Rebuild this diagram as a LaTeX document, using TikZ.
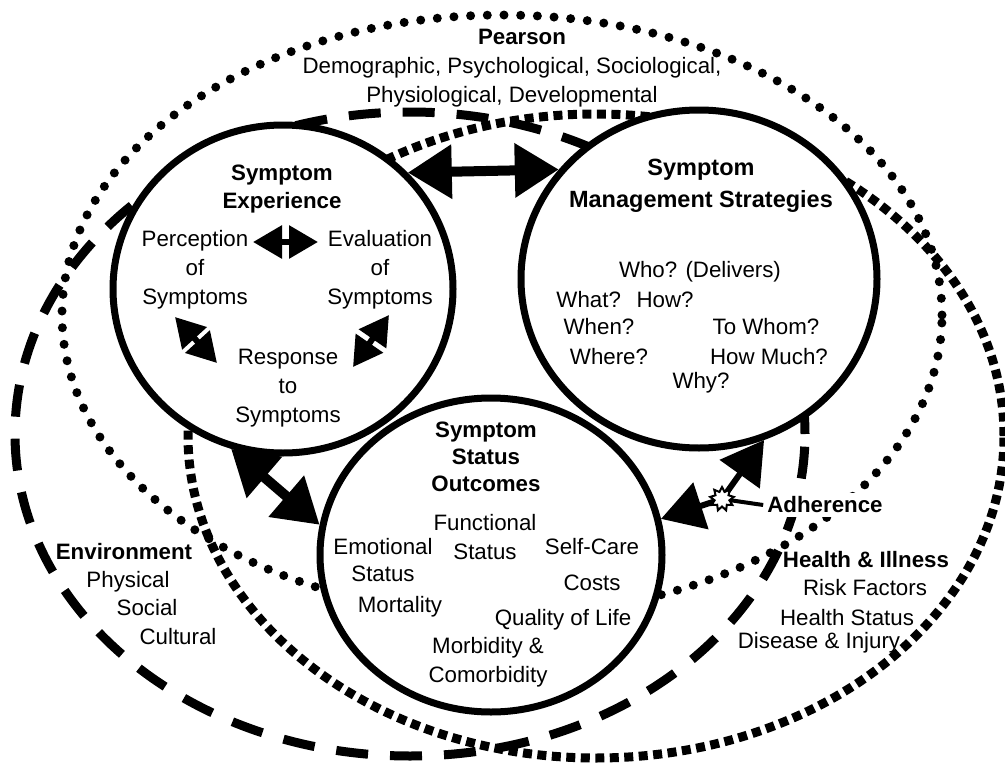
\documentclass[tikz,border=0pt]{standalone}
\usepackage{fontspec}
\setmainfont{Liberation Sans}
\usetikzlibrary{arrows.meta,shapes.geometric}
\begin{document}
\begin{tikzpicture}[x=1pt,y=-1pt,
  lbl/.style={font=\fontsize{22.3pt}{29pt}\selectfont, inner sep=0pt, align=center},
  head/.style={font=\fontsize{22.3pt}{28pt}\selectfont\bfseries, inner sep=0pt, align=center},
  zone/.style={draw, line width=7pt, fill=white, ellipse, inner sep=0pt},
  personline/.style={line width=9pt, line cap=round, dash pattern=on 0pt off 16.7pt},
  envline/.style={line width=9pt, dash pattern=on 32pt off 22pt},
  healthline/.style={line width=9pt, dash pattern=on 9pt off 5.5pt},
  bigdbl/.style={line width=10pt, {Triangle[length=44pt,width=52pt]}-{Triangle[length=44pt,width=52pt]}},
  bigone/.style={line width=6pt, -{Triangle[length=42pt,width=48pt]}},
  smalldbl/.style={line width=6pt, {Triangle[length=29pt,width=32pt]}-{Triangle[length=29pt,width=32pt]}},
]
\useasboundingbox (0,0) rectangle (1005,763);
\fill[white] (0,0) rectangle (1005,763);

% surrounding domains: person, environment, health and illness
\draw[personline] (502,315) ellipse [x radius=440pt, y radius=300pt];
\draw[envline] (410,434) ellipse [x radius=395pt, y radius=322pt];
\draw[healthline] (596,436) ellipse [x radius=408pt, y radius=322pt];

% the three core dimensions
\node[zone, minimum width=340pt, minimum height=328pt] (se) at (283,289) {};
\node[zone, minimum width=356pt, minimum height=338pt] (sm) at (699,279) {};
\node[zone, minimum width=342pt, minimum height=314pt] (sso) at (491,555) {};

% links between the dimensions
\draw[bigdbl] (se.43.3) -- (sm.142.7);
\draw[bigdbl] (se.252.7) -- (sso.170.6);

% person domain
\node[head] (pearson) at (522,37) {Pearson};
\node[lbl] (pearsonlist) at (512,82.5) {Demographic, Psychological, Sociological,\\Physiological, Developmental};

% symptom experience
\node[head] (setitle) at (282,189) {Symptom\\Experience};
\node[lbl] (perc) at (195,270) {Perception\\of\\Symptoms};
\node[lbl] (eval) at (380,270) {Evaluation\\of\\Symptoms};
\node[lbl] (resp) at (288,388) {Response\\to\\Symptoms};
\coordinate (pe1) at (253,242);
\coordinate (pe2) at (318,242);
\coordinate (pr1) at (175,317);
\coordinate (pr2) at (217,363);
\coordinate (er1) at (389,315);
\coordinate (er2) at (353,367);
\draw[smalldbl] (pe1) -- (pe2);
\draw[smalldbl] (pr1) -- (pr2);
\draw[smalldbl] (er1) -- (er2);

% symptom management strategies
\node[head, font=\fontsize{23.5pt}{28pt}\selectfont\bfseries] (smtitle) at (701,186) {Symptom\\[4pt]Management Strategies};
\node[lbl] (who) at (700,272) {Who? (Delivers)};
\node[lbl] (whathow) at (625,300) {What?\hspace{0.7em}How?};
\node[lbl] (when) at (599,327) {When?};
\node[lbl] (towhom) at (766,327) {To Whom?};
\node[lbl] (where) at (609,357) {Where?};
\node[lbl] (howmuch) at (769,357) {How Much?};
\node[lbl] (why) at (701,383) {Why?};

% symptom status outcomes
\node[head, font=\fontsize{22.3pt}{27pt}\selectfont\bfseries] (ssotitle) at (486,457) {Symptom\\Status\\Outcomes};
\node[lbl] (func) at (485,537.5) {Functional\\Status};
\node[lbl, font=\fontsize{22.3pt}{27pt}\selectfont] (emot) at (383,560.5) {Emotional\\Status};
\node[lbl] (selfcare) at (592,547) {Self-Care};
\node[lbl] (costs) at (592,583) {Costs};
\node[lbl] (mort) at (400,607) {Mortality};
\node[lbl] (qol) at (563,620) {Quality of Life};
\node[lbl] (morb) at (488,662.5) {Morbidity \&\\Comorbidity};

% environment domain
\node[head] (env) at (124,552) {Environment};
\node[lbl] (phys) at (128,582) {Physical};
\node[lbl] (soc) at (147,608) {Social};
\node[lbl] (cult) at (178,637) {Cultural};

% health and illness domain
\node[head] (health) at (866,560) {Health \& Illness};
\node[lbl] (risk) at (865,588) {Risk Factors};
\node[lbl] (hstat) at (847,618) {Health Status};
\node[lbl] (dis) at (819,643) {Disease \& Injury};

% adherence
\node[head, fill=white, inner sep=4pt] (adh) at (825,505) {Adherence};
\node[star, star points=9, star point ratio=1.6, minimum size=24pt, inner sep=0pt] (burst) at (722,499) {};
\draw[line width=4pt] (adh.west) -- (burst.center);
\draw[bigone] (burst.center) -- (sm.-68.3);
\draw[bigone] (burst.center) -- (sso.12.3);
\node[star, star points=9, star point ratio=1.6, minimum size=24pt, inner sep=0pt, draw, fill=white, line width=2pt] at (burst.center) {};
\end{tikzpicture}
\end{document}
